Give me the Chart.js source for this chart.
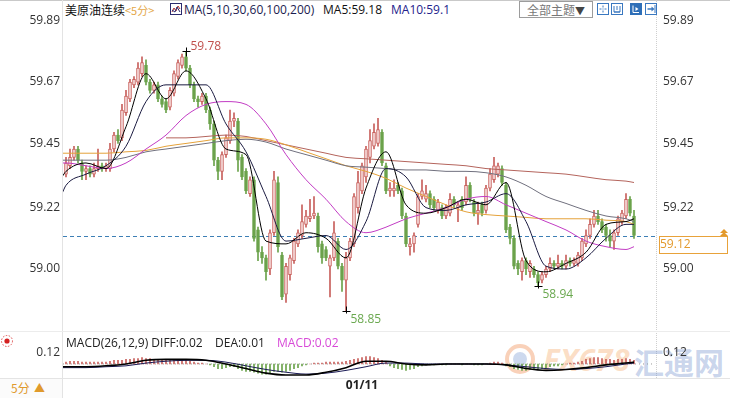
<!DOCTYPE html>
<html>
<head>
<meta charset="utf-8">
<title>美原油连续 5分</title>
<script src="https://cdn.jsdelivr.net/npm/chart.js@4.4.1/dist/chart.umd.min.js"></script>
<style>
  html, body { margin: 0; padding: 0; background: #fff; }
  body { position: relative; width: 730px; height: 398px; overflow: hidden;
         font-family: "Open Sans", "Noto Sans CJK SC", sans-serif; font-size: 12px; color: #222; }
  .ln { position: absolute; }
  .txt { position: absolute; white-space: nowrap; line-height: 16px; }
  #mainWrap { position: absolute; left: 0; top: 0; width: 730px; height: 330px; z-index: 2; }
  #macdWrap { position: absolute; left: 0; top: 330px; width: 730px; height: 68px; z-index: 2; }
  .btn { position: absolute; left: 519px; top: 1px; width: 72px; height: 15px; border: 1px solid #9c9c9c;
         font-family: "Noto Sans CJK SC", sans-serif; font-size: 12px; line-height: 15px; color: #777; text-align: center; }
  .btn b { color: #444; font-weight: normal; font-size: 10px; }
  .ico { position: absolute; top: 3px; }
  .wm { position: absolute; z-index: 1; font-weight: bold; white-space: nowrap; }
</style>
</head>
<body>
<!-- frame lines -->
<div class="ln" style="left:0;top:0;width:730px;height:1px;background:#c9c9c9"></div>
<div class="ln" style="left:62px;top:0;width:1px;height:398px;background:#e3e3e3"></div>
<div class="ln" style="left:656px;top:0;height:378px;border-left:1px dotted #cfcfcf"></div>
<div class="ln" style="left:0;top:331px;width:730px;height:1px;background:#ececec"></div>
<div class="ln" style="left:0;top:378px;width:730px;height:1px;background:#e4e4e4"></div>

<!-- header -->
<div class="txt" style="left:65px;top:2px;font-family:'Noto Sans CJK SC';color:#111">美原油连续</div>
<div class="txt" style="left:125px;top:2px;font-family:'Noto Sans CJK SC';font-size:11px;color:#e4a84a">&lt;5分&gt;</div>
<svg class="ico" style="left:170px;top:3px" width="12" height="12" viewBox="0 0 12 12">
  <rect x="0.5" y="0.5" width="11" height="11" fill="#fff" stroke="#2b2b6e"/>
  <polyline points="2,9 4,5 6,8 8,3 10,6" fill="none" stroke="#b03030" stroke-width="1"/>
  <polyline points="2,7 5,9 7,4 10,9" fill="none" stroke="#2b2b6e" stroke-width="1"/>
</svg>
<div class="txt" style="left:184px;top:2px;color:#1c1c50">MA(5,10,30,60,100,200)</div>
<div class="txt" style="left:323px;top:2px;color:#111">MA5:59.18</div>
<div class="txt" style="left:391px;top:2px;color:#23238c">MA10:59.1</div>
<div class="btn">全部主题<b>▼</b></div>
<svg class="ico" style="left:597px" width="12" height="12" viewBox="0 0 12 12">
  <rect x="0.5" y="0.5" width="11" height="11" fill="#fff" stroke="#3a78c0"/>
  <path d="M6 2.5v2M6 7.5v2M2.5 6h2M7.5 6h2" stroke="#3a78c0"/>
  <rect x="5.5" y="5.5" width="1" height="1" fill="#3a78c0"/>
</svg>
<svg class="ico" style="left:611px" width="12" height="12" viewBox="0 0 12 12">
  <rect x="0.5" y="0.5" width="11" height="11" fill="#fff" stroke="#3a78c0"/>
  <path d="M3 3v6h6V3M6 3v4M3 9h6" stroke="#3a78c0" fill="none"/>
</svg>
<svg class="ico" style="left:630px" width="12" height="12" viewBox="0 0 12 12">
  <rect x="0" y="0" width="12" height="12" fill="#2e6fb8"/>
  <path d="M3 2.5v7h6" stroke="#fff" fill="none"/>
  <path d="M5.5 4l3 2-3 2z" fill="#fff"/>
</svg>
<svg class="ico" style="left:645px" width="12" height="12" viewBox="0 0 12 12">
  <rect x="0.5" y="0.5" width="11" height="11" fill="#fff" stroke="#3a78c0"/>
  <path d="M2.5 6h5" stroke="#3a78c0" stroke-width="1.5"/>
  <path d="M6.5 3.5l3 2.5-3 2.5z" fill="#3a78c0"/>
  <path d="M10 2v8" stroke="#3a78c0"/>
</svg>

<!-- left column bits -->
<svg class="ln" style="left:0;top:334px" width="14" height="14" viewBox="0 0 14 14">
  <circle cx="7" cy="7" r="5.5" fill="none" stroke="#e05050" stroke-dasharray="1.5 1.5"/>
  <circle cx="7" cy="7" r="2.6" fill="#d42020"/>
</svg>
<div class="ln" style="left:0;top:379px;width:62px;height:19px;background:#fbfbfb"></div>
<div class="txt" style="left:11px;top:380px;font-family:'Noto Sans CJK SC';font-size:12px;color:#e09a2c">5分</div>
<div class="txt" style="left:34px;top:380px;font-size:11px;color:#e09a2c">▲</div>

<!-- MACD header -->
<div class="txt" style="left:66px;top:335px;color:#222;z-index:3">MACD(26,12,9) DIFF:0.02</div>
<div class="txt" style="left:215px;top:335px;color:#222;z-index:3">DEA:0.01</div>
<div class="txt" style="left:277px;top:335px;color:#d84ad8;z-index:3">MACD:0.02</div>

<!-- watermark -->
<svg class="wm" style="left:504px;top:343px" width="32" height="32" viewBox="0 0 32 32">
  <circle cx="16" cy="16" r="13" fill="none" stroke="rgba(240,140,80,0.4)" stroke-width="4"/>
  <circle cx="16" cy="16" r="7" fill="rgba(90,130,200,0.3)"/>
</svg>
<div class="wm" style="left:543px;top:338px;font-size:31px;font-style:italic;color:rgba(244,160,90,0.35);font-family:'Open Sans'">FX678</div>
<div class="wm" style="left:634px;top:339px;font-size:30px;color:rgba(90,125,195,0.33);font-family:'Noto Sans CJK SC'">汇通网</div>

<div id="mainWrap"><canvas id="mainChart"></canvas></div>
<div id="macdWrap"><canvas id="macdChart"></canvas></div>

<script>
// ---- candle data (5 min) ----
const opens = [
  59.34, 59.37, 59.40, 59.43, 59.38, 59.35, 59.36, 59.34, 59.36, 59.37,
  59.36, 59.36, 59.43, 59.48, 59.47, 59.56, 59.61, 59.66, 59.67, 59.70,
  59.73, 59.67, 59.64, 59.66, 59.61, 59.60, 59.58, 59.63, 59.69, 59.73,
  59.76, 59.72, 59.66, 59.61, 59.60, 59.62, 59.57, 59.52, 59.39, 59.35,
  59.41, 59.46, 59.53, 59.53, 59.40, 59.35, 59.27, 59.32, 59.14, 59.06,
  59.04, 59.00, 59.13, 59.31, 59.05, 58.91, 58.98, 59.03, 59.09, 59.12,
  59.16, 59.18, 59.19, 59.19, 59.09, 59.07, 59.01, 59.04, 59.10, 59.01,
  58.96, 59.04, 59.09, 59.22, 59.28, 59.33, 59.40, 59.44, 59.45, 59.49,
  59.37, 59.28, 59.28, 59.30, 59.28, 59.19, 59.08, 59.09, 59.16, 59.26,
  59.25, 59.27, 59.25, 59.21, 59.22, 59.19, 59.20, 59.25, 59.22, 59.25,
  59.24, 59.30, 59.24, 59.20, 59.23, 59.21, 59.29, 59.32, 59.34, 59.36,
  59.30, 59.15, 59.11, 59.02, 58.99, 59.03, 58.99, 59.00, 58.98, 58.96,
  58.98, 59.00, 59.02, 59.01, 59.02, 59.01, 59.03, 59.02, 59.02, 59.04,
  59.09, 59.12, 59.16, 59.19, 59.17, 59.15, 59.12, 59.10, 59.13, 59.17,
  59.19, 59.25, 59.19
];
const highs = [
  59.40, 59.43, 59.44, 59.44, 59.39, 59.37, 59.37, 59.38, 59.43, 59.38,
  59.38, 59.45, 59.49, 59.50, 59.59, 59.64, 59.68, 59.69, 59.74, 59.76,
  59.75, 59.68, 59.67, 59.67, 59.62, 59.61, 59.65, 59.71, 59.75, 59.77,
  59.78, 59.73, 59.67, 59.62, 59.63, 59.63, 59.58, 59.53, 59.40, 59.42,
  59.48, 59.57, 59.56, 59.54, 59.41, 59.36, 59.33, 59.33, 59.15, 59.08,
  59.05, 59.14, 59.35, 59.33, 59.06, 59.02, 59.05, 59.11, 59.14, 59.23,
  59.21, 59.25, 59.26, 59.20, 59.10, 59.08, 59.05, 59.17, 59.11, 59.02,
  59.06, 59.11, 59.27, 59.35, 59.38, 59.44, 59.50, 59.52, 59.54, 59.50,
  59.38, 59.31, 59.32, 59.31, 59.29, 59.20, 59.11, 59.13, 59.27, 59.32,
  59.30, 59.28, 59.26, 59.25, 59.23, 59.23, 59.27, 59.26, 59.24, 59.26,
  59.33, 59.31, 59.25, 59.24, 59.24, 59.30, 59.36, 59.40, 59.38, 59.37,
  59.31, 59.16, 59.12, 59.03, 59.04, 59.04, 59.03, 59.01, 58.99, 58.99,
  59.01, 59.04, 59.03, 59.05, 59.03, 59.05, 59.04, 59.04, 59.06, 59.11,
  59.14, 59.18, 59.21, 59.21, 59.18, 59.16, 59.14, 59.14, 59.19, 59.21,
  59.27, 59.26, 59.21
];
const lows = [
  59.33, 59.36, 59.39, 59.38, 59.32, 59.32, 59.33, 59.33, 59.35, 59.35,
  59.35, 59.35, 59.42, 59.45, 59.46, 59.55, 59.60, 59.65, 59.66, 59.69,
  59.66, 59.63, 59.63, 59.60, 59.58, 59.56, 59.57, 59.62, 59.68, 59.72,
  59.71, 59.65, 59.60, 59.58, 59.59, 59.56, 59.50, 59.37, 59.32, 59.32,
  59.40, 59.45, 59.51, 59.35, 59.32, 59.27, 59.26, 59.10, 59.03, 59.02,
  58.96, 58.98, 59.12, 59.06, 58.89, 58.88, 58.96, 59.02, 59.08, 59.11,
  59.15, 59.17, 59.18, 59.06, 59.02, 59.03, 58.90, 59.03, 59.00, 58.92,
  58.85, 59.03, 59.08, 59.20, 59.27, 59.31, 59.38, 59.43, 59.44, 59.37,
  59.27, 59.26, 59.26, 59.27, 59.18, 59.08, 59.05, 59.06, 59.15, 59.25,
  59.24, 59.22, 59.21, 59.20, 59.18, 59.18, 59.19, 59.22, 59.17, 59.21,
  59.23, 59.24, 59.19, 59.16, 59.19, 59.20, 59.28, 59.31, 59.33, 59.30,
  59.13, 59.09, 59.00, 58.98, 58.96, 58.98, 58.97, 58.97, 58.94, 58.95,
  58.97, 58.99, 59.00, 59.00, 59.00, 59.00, 59.01, 59.01, 59.01, 59.03,
  59.08, 59.11, 59.15, 59.16, 59.13, 59.10, 59.08, 59.07, 59.12, 59.16,
  59.18, 59.19, 59.11
];
const closes = [
  59.38, 59.40, 59.43, 59.39, 59.35, 59.36, 59.34, 59.36, 59.37, 59.36,
  59.37, 59.43, 59.48, 59.46, 59.57, 59.62, 59.67, 59.68, 59.72, 59.74,
  59.67, 59.64, 59.66, 59.61, 59.59, 59.57, 59.64, 59.70, 59.74, 59.76,
  59.72, 59.66, 59.61, 59.60, 59.62, 59.57, 59.52, 59.39, 59.35, 59.41,
  59.47, 59.53, 59.54, 59.39, 59.33, 59.28, 59.32, 59.11, 59.06, 59.04,
  58.99, 59.13, 59.32, 59.08, 58.90, 59.01, 59.04, 59.10, 59.13, 59.17,
  59.19, 59.19, 59.20, 59.08, 59.04, 59.04, 59.04, 59.13, 59.01, 58.96,
  59.04, 59.10, 59.26, 59.31, 59.37, 59.43, 59.46, 59.49, 59.50, 59.38,
  59.28, 59.29, 59.29, 59.28, 59.19, 59.09, 59.09, 59.12, 59.26, 59.28,
  59.27, 59.23, 59.22, 59.24, 59.19, 59.22, 59.25, 59.23, 59.23, 59.22,
  59.30, 59.25, 59.20, 59.21, 59.20, 59.29, 59.34, 59.37, 59.37, 59.31,
  59.14, 59.11, 59.01, 59.00, 59.03, 59.00, 59.02, 58.98, 58.95, 58.98,
  59.00, 59.02, 59.01, 59.02, 59.01, 59.03, 59.02, 59.03, 59.05, 59.10,
  59.12, 59.16, 59.19, 59.17, 59.14, 59.12, 59.10, 59.13, 59.18, 59.20,
  59.25, 59.20, 59.12
];

// ---- moving averages, read at every 5th bar ----
const maIdx = [-1, 0, 5, 10, 15, 20, 25, 30, 35, 40, 45, 50, 55, 60, 65, 70,
               75, 80, 85, 90, 95, 100, 105, 110, 115, 120, 125, 130, 135, 140, 142];
const ma5 = [59.33, 59.35, 59.38, 59.36, 59.51, 59.70, 59.61, 59.71, 59.61, 59.43, 59.41, 59.10, 59.09, 59.13, 59.11, 59.04,
             59.29, 59.42, 59.23, 59.20, 59.22, 59.25, 59.23, 59.31, 59.03, 58.99, 59.02, 59.06, 59.16, 59.17, 59.18];
const ma10 = [59.27, 59.30, 59.34, 59.37, 59.44, 59.60, 59.66, 59.66, 59.66, 59.52, 59.42, 59.26, 59.10, 59.11, 59.12, 59.07,
              59.17, 59.36, 59.33, 59.22, 59.21, 59.23, 59.24, 59.27, 59.17, 59.01, 59.00, 59.04, 59.11, 59.16, 59.16];
const ma30 = [59.38, 59.38, 59.37, 59.36, 59.38, 59.43, 59.48, 59.55, 59.59, 59.60, 59.59, 59.52, 59.41, 59.32, 59.25, 59.17,
              59.13, 59.15, 59.18, 59.20, 59.22, 59.25, 59.26, 59.23, 59.20, 59.17, 59.14, 59.10, 59.08, 59.07, 59.08];
const ma60 = [59.39, 59.39, 59.39, 59.39, 59.40, 59.42, 59.43, 59.44, 59.45, 59.46, 59.465, 59.455, 59.43, 59.41, 59.39, 59.37,
              59.365, 59.36, 59.355, 59.355, 59.35, 59.35, 59.345, 59.33, 59.30, 59.26, 59.235, 59.21, 59.19, 59.18, 59.17];
const ma100 = [59.415, 59.415, 59.415, 59.415, 59.42, 59.425, 59.44, 59.45, 59.46, 59.47, 59.47, 59.465, 59.445, 59.42, 59.395, 59.37,
               59.35, 59.325, 59.29, 59.26, 59.23, 59.205, 59.195, 59.19, 59.185, 59.18, 59.18, 59.18, 59.175, 59.17, 59.16];
const ma200 = [null, null, null, null, null, null, 59.47, 59.47, 59.475, 59.48, 59.475, 59.46, 59.445, 59.43, 59.415, 59.40,
               59.395, 59.39, 59.385, 59.38, 59.375, 59.37, 59.36, 59.355, 59.35, 59.345, 59.34, 59.33, 59.32, 59.315, 59.31];

// ---- MACD ----
const macdHist = [
  0.02, 0.03, 0.03, 0.03, 0.02, 0.02, 0.02, 0.02, 0.02,
  0.02, 0.02, 0.03, 0.04, 0.04,
  0.04, 0.05, 0.05, 0.06, 0.06, 0.07, 0.06, 0.06, 0.05, 0.05, 0.04, 0.04,
  0.04, 0.05, 0.05, 0.05, 0.04, 0.03, 0.02,
  0.01, 0.01, 0.00, -0.01,
  -0.03, -0.05, -0.05, -0.04, -0.03, -0.03, -0.05, -0.07, -0.08,
  -0.08, -0.09, -0.10, -0.11, -0.11, -0.10, -0.08, -0.08, -0.09, -0.08,
  -0.07, -0.05, -0.04, -0.02, -0.01, 0.00, 0.01,
  0.01, 0.01, 0.02, 0.02, 0.02, 0.02, 0.02, 0.03,
  0.04, 0.05, 0.06, 0.07, 0.08, 0.08, 0.07, 0.06, 0.04, 0.02,
  -0.02, -0.04, -0.05, -0.06, -0.07, -0.06, -0.05, -0.03,
  -0.02, -0.01, -0.01, -0.01, 0.00, -0.01, -0.01, 0.00, 0.00, 0.00, -0.01, 0.00, 0.00, -0.01, -0.01, -0.01, 0.00, 0.01, 0.02,
  0.02, 0.01, -0.02,
  -0.03, -0.05, -0.06, -0.07, -0.07, -0.06, -0.06, -0.05, -0.05, -0.04, -0.03, -0.02, -0.02, -0.01, 0.00,
  0.01, 0.01, 0.02, 0.03, 0.05, 0.06, 0.07, 0.07, 0.06, 0.05, 0.05, 0.04, 0.05, 0.05, 0.06, 0.05, 0.04
];
const diffLine = [-0.03, -0.03, -0.03, -0.02, 0.00, 0.04, 0.05, 0.05, 0.04, 0.00, -0.05, -0.10, -0.12, -0.12, -0.09, -0.04,
                  0.03, 0.03, 0.00, -0.01, 0.00, 0.00, 0.00, -0.01, -0.05, -0.07, -0.06, -0.04, -0.01, 0.01, 0.02];
const deaLine = [-0.04, -0.04, -0.04, -0.03, -0.02, 0.01, 0.03, 0.04, 0.04, 0.02, -0.02, -0.06, -0.09, -0.11, -0.10, -0.07,
                 -0.03, 0.01, 0.01, 0.00, 0.00, 0.00, 0.00, -0.01, -0.03, -0.05, -0.06, -0.05, -0.03, 0.00, 0.01];

// ---- axes / labels ----
const priceTicks = [59.00, 59.22, 59.45, 59.67, 59.89];
const macdTicks = [0.12];
const dayIndex = [74];
const dayLabels = ['01/11'];
const lastPrice = 59.12;
const markIndex = [30, 70, 118];
const markValue = [59.78, 58.85, 58.94];
const markIsHigh = [true, false, false];

const UP = '#c8605c', UP_FILL = '#f7dede', DOWN = '#6ba34b';
const FONT = '"Open Sans", "Noto Sans CJK SC", sans-serif';
Chart.defaults.font.family = FONT;
Chart.defaults.font.size = 12;
Chart.defaults.color = '#333';

const X_MIN = -0.75, X_MAX = 147.25;

const isUp = i => closes[i] >= opens[i];
const idx = closes.map((_, i) => i);
const pts = (arr) => maIdx.map((x, k) => ({ x: x, y: arr[k] })).filter(p => p.y !== null);

function lineSet(label, arr, color, width) {
    return {
        type: 'line', label: label, data: pts(arr),
        borderColor: color, borderWidth: width || 1,
        pointRadius: 0, cubicInterpolationMode: 'monotone', order: 0
    };
}

function noPad(s) {
    s.paddingTop = 0; s.paddingBottom = 0; s.paddingLeft = 0; s.paddingRight = 0;
}

function yAxis(pos, width, ticks, min, max, fmt) {
    return {
        type: 'linear', position: pos, min: min, max: max, bounds: 'data',
        grid: { display: false, drawTicks: false }, border: { display: false },
        afterBuildTicks: s => { s.ticks = ticks.map(v => ({ value: v })); },
        afterFit: s => { s.width = width; noPad(s); },
        ticks: { padding: pos === 'left' ? 3 : 8, color: '#333', font: { size: 12 },
                 callback: v => v.toFixed(fmt) }
    };
}

const markPlugin = {
    id: 'markPlugin',
    beforeDatasetsDraw(chart) {
        const { ctx, chartArea, scales } = chart;
        const py = Math.round(scales.y.getPixelForValue(lastPrice)) + 0.5;
        ctx.save();
        ctx.strokeStyle = '#3d7fb5';
        ctx.lineWidth = 1;
        ctx.setLineDash([4, 3]);
        ctx.beginPath();
        ctx.moveTo(chartArea.left, py);
        ctx.lineTo(chartArea.right, py);
        ctx.stroke();
        ctx.restore();
    },
    afterDatasetsDraw(chart) {
        const { ctx, chartArea, scales } = chart;
        ctx.save();
        ctx.font = '12px ' + FONT;
        ctx.textBaseline = 'middle';
        ctx.textAlign = 'left';
        markIndex.forEach((mi, k) => {
            const px = Math.round(scales.x.getPixelForValue(mi)) + 0.5;
            const py = Math.round(scales.y.getPixelForValue(markValue[k])) + 0.5;
            ctx.strokeStyle = '#000';
            ctx.lineWidth = 1;
            ctx.beginPath();
            ctx.moveTo(px - 4, py); ctx.lineTo(px + 4, py);
            if (markIsHigh[k]) { ctx.moveTo(px, py - 4); ctx.lineTo(px, py + 5); }
            else { ctx.moveTo(px, py - 5); ctx.lineTo(px, py + 2); }
            ctx.stroke();
            ctx.fillStyle = markIsHigh[k] ? '#c0504d' : '#6aa84f';
            ctx.fillText(markValue[k].toFixed(2), px + 4, markIsHigh[k] ? py - 5 : py + 8);
        });
        // last price box on the right axis
        const py = Math.round(scales.y.getPixelForValue(lastPrice));
        const bx = chartArea.right + 4;
        ctx.fillStyle = '#fff';
        ctx.fillRect(bx, py, 69, 17);
        ctx.strokeStyle = '#e8a23a';
        ctx.strokeRect(bx + 0.5, py + 0.5, 68, 17);
        ctx.fillStyle = '#e39a2c';
        ctx.fillText(lastPrice.toFixed(2), bx + 1, py + 9);
        ctx.beginPath();
        ctx.moveTo(bx + 65, py - 7); ctx.lineTo(bx + 69, py - 3); ctx.lineTo(bx + 61, py - 3); ctx.closePath();
        ctx.moveTo(bx + 65, py - 4); ctx.lineTo(bx + 69, py); ctx.lineTo(bx + 61, py); ctx.closePath();
        ctx.fill();
        ctx.restore();
    }
};

new Chart(document.getElementById('mainChart'), {
    data: {
        datasets: [
            lineSet('MA5', ma5, '#000000', 1),
            lineSet('MA10', ma10, '#1a1a40', 1),
            lineSet('MA30', ma30, '#c23cc4', 1),
            lineSet('MA60', ma60, '#70707e', 1),
            lineSet('MA100', ma100, '#e5a23a', 1),
            lineSet('MA200', ma200, '#b4645c', 1),
            {
                type: 'bar', label: 'body',
                data: idx.map(i => ({ x: i, y: [opens[i], closes[i]] })),
                backgroundColor: c => isUp(c.dataIndex) ? UP_FILL : DOWN,
                borderColor: c => isUp(c.dataIndex) ? UP : DOWN,
                borderWidth: 1, borderSkipped: false,
                barThickness: 3, grouped: false, order: 1
            },
            {
                type: 'bar', label: 'wick',
                data: idx.map(i => ({ x: i, y: [lows[i], highs[i]] })),
                backgroundColor: c => isUp(c.dataIndex) ? UP : DOWN,
                borderWidth: 0, barThickness: 1, grouped: false, order: 2
            }
        ]
    },
    options: {
        responsive: true,
        maintainAspectRatio: false,
        animation: false,
        layout: { padding: { top: 12, bottom: 5, left: 0, right: 0 } },
        plugins: { legend: { display: false }, tooltip: { enabled: false } },
        scales: {
            x: { type: 'linear', min: X_MIN, max: X_MAX, offset: false, display: false },
            y: yAxis('left', 63, priceTicks, 58.7993, 59.9211, 2),
            y1: yAxis('right', 75, priceTicks, 58.7993, 59.9211, 2)
        }
    },
    plugins: [markPlugin]
});

new Chart(document.getElementById('macdChart'), {
    data: {
        datasets: [
            {
                type: 'line', label: 'zero',
                data: [{ x: X_MIN, y: 0 }, { x: X_MAX, y: 0 }],
                borderColor: '#9a9a9a', borderWidth: 1, borderDash: [1, 3], pointRadius: 0, order: 3
            },
            lineSet('DIFF', diffLine, '#000000', 1.6),
            lineSet('DEA', deaLine, '#1b1b55', 1),
            {
                type: 'bar', label: 'MACD',
                data: idx.map(i => ({ x: i, y: macdHist[i] })),
                backgroundColor: c => macdHist[c.dataIndex] >= 0 ? '#c8605c' : '#6ba34b',
                barThickness: 1, grouped: false, order: 2
            }
        ]
    },
    options: {
        responsive: true,
        maintainAspectRatio: false,
        animation: false,
        layout: { padding: { top: 3, bottom: 0, left: 0, right: 0 } },
        plugins: { legend: { display: false }, tooltip: { enabled: false } },
        scales: {
            x: {
                type: 'linear', min: X_MIN, max: X_MAX, offset: false,
                grid: { display: false, drawTicks: false }, border: { display: false },
                afterBuildTicks: s => { s.ticks = dayIndex.map(v => ({ value: v })); },
                afterFit: s => { s.height = 21; noPad(s); },
                ticks: {
                    padding: 1, maxRotation: 0, autoSkip: false, color: '#222',
                    font: { size: 12, weight: 'bold' },
                    callback: v => dayLabels[dayIndex.indexOf(v)]
                }
            },
            y: yAxis('left', 63, macdTicks, -0.142, 0.338, 2),
            y1: yAxis('right', 75, macdTicks, -0.142, 0.338, 2)
        }
    }
});
</script>
</body>
</html>
